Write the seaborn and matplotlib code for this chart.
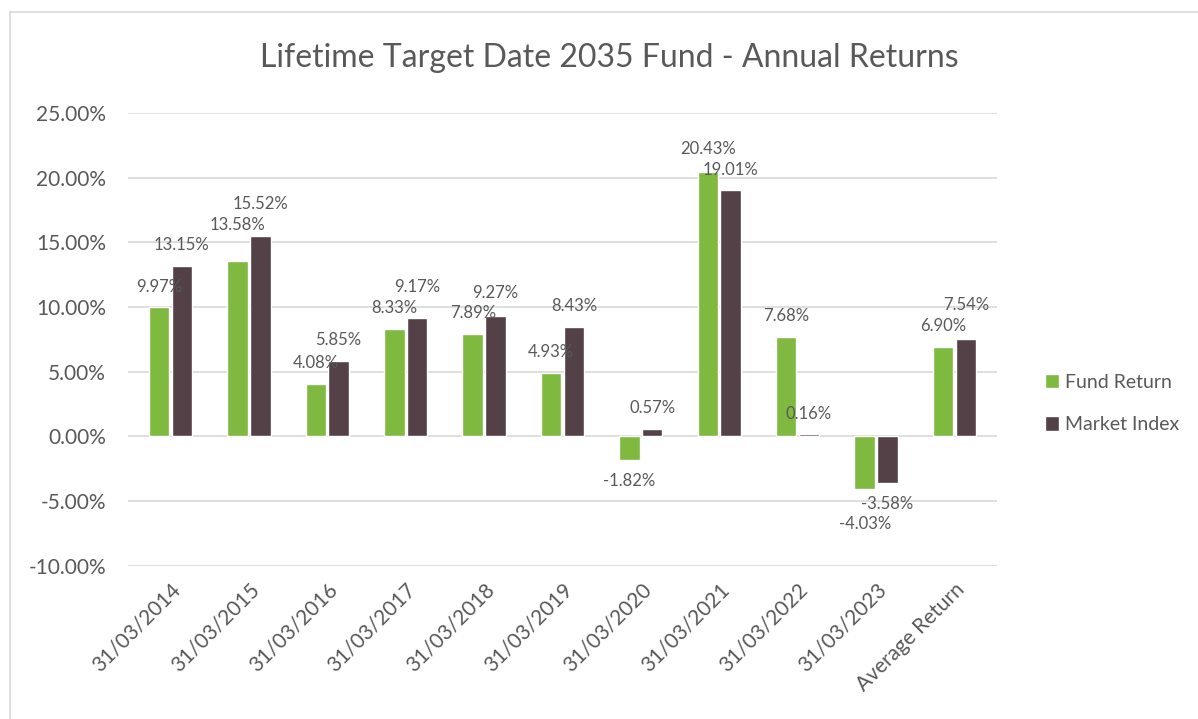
import numpy as np
import pandas as pd
import matplotlib
matplotlib.use('Agg')
import matplotlib.pyplot as plt
import seaborn as sns
from matplotlib.patches import Rectangle

categories = ['31/03/2014', '31/03/2015', '31/03/2016', '31/03/2017', '31/03/2018',
              '31/03/2019', '31/03/2020', '31/03/2021', '31/03/2022', '31/03/2023',
              'Average Return']
fund_return  = [9.97, 13.58, 4.08, 8.33, 7.89, 4.93, -1.82, 20.43, 7.68, -4.03, 6.90]
market_index = [13.15, 15.52, 5.85, 9.17, 9.27, 8.43, 0.57, 19.01, 0.16, -3.58, 7.54]
series = ['Fund Return', 'Market Index']
yticks = [-10, -5, 0, 5, 10, 15, 20, 25]

GREEN = '#80B940'
DARK  = '#534147'
TEXT  = '#595959'
GRID  = '#D9D9D9'

df = pd.DataFrame({
    'date': categories * 2,
    'series': [series[0]] * len(categories) + [series[1]] * len(categories),
    'value': fund_return + market_index,
})

sns.set_theme(style='white')
plt.rcParams['font.family'] = ['Lato', 'DejaVu Sans']

fig = plt.figure(figsize=(11.98, 7.19), dpi=100)
ax = fig.add_axes([0.107, 0.213, 0.725, 0.630])

sns.barplot(data=df, x='date', y='value', hue='series', order=categories,
            hue_order=series, palette=[GREEN, DARK], width=0.58, gap=0.1,
            saturation=1, ax=ax, zorder=3)

ax.set_ylim(-10, 25)
ax.set_xlim(-0.54, len(categories) - 0.46)
ax.set_yticks(yticks)
ax.set_yticklabels([f'{t:.2f}%' for t in yticks], fontsize=15, color=TEXT)
ax.yaxis.grid(True, color=GRID, linewidth=1.2, zorder=0)
ax.set_axisbelow(True)
for s in ax.spines.values():
    s.set_visible(False)
ax.tick_params(axis='both', length=0)
ax.tick_params(axis='y', pad=16)
ax.tick_params(axis='x', pad=10)
ax.set_xlabel('')
ax.set_ylabel('')
plt.setp(ax.get_xticklabels(), rotation=45, ha='right', rotation_mode='anchor',
         fontsize=15, color=TEXT)

# data labels: walk left to right (fund, market, fund, ...) and push a label
# further out when it sits too close to the previous one
PT_PER_UNIT = 0.630 * 7.19 * 72 / 35
BASE, MIN_GAP = 15, 15
bars = [(ax.containers[j][i], [fund_return, market_index][j][i])
        for i in range(len(categories)) for j in range(2)]
offs = [BASE if v >= 0 else -BASE for _, v in bars]
for k in range(1, len(bars)):
    v0, v1 = bars[k - 1][1], bars[k][1]
    if (v0 >= 0) != (v1 >= 0):
        continue
    p0, p1 = v0 * PT_PER_UNIT + offs[k - 1], v1 * PT_PER_UNIT + offs[k]
    gap = abs(p0 - p1)
    if gap < MIN_GAP:
        far = k if abs(p1) >= abs(p0) else k - 1
        offs[far] += (MIN_GAP - gap) * (1 if v1 >= 0 else -1)

for (bar, v), off in zip(bars, offs):
    x = bar.get_x() + bar.get_width() / 2
    ax.annotate(f'{v:.2f}%', (x, v), xytext=(0, off), textcoords='offset points',
                ha='center', va='center', fontsize=12, color=TEXT)

ax.legend(loc='center left', bbox_to_anchor=(1.035, 0.358), frameon=False,
          fontsize=14, labelcolor=TEXT, handlelength=0.75, handleheight=0.75,
          handletextpad=0.3, labelspacing=1.3)

fig.text(0.509, 0.919, 'Lifetime Target Date 2035 Fund - Annual Returns',
         ha='center', va='center', fontsize=23, color=TEXT)

fig.patches.append(Rectangle((0.008, -0.1), 1.2, 1.083, transform=fig.transFigure,
                             fill=False, edgecolor=GRID, linewidth=1.2))

fig.savefig('out.png', dpi=100)
